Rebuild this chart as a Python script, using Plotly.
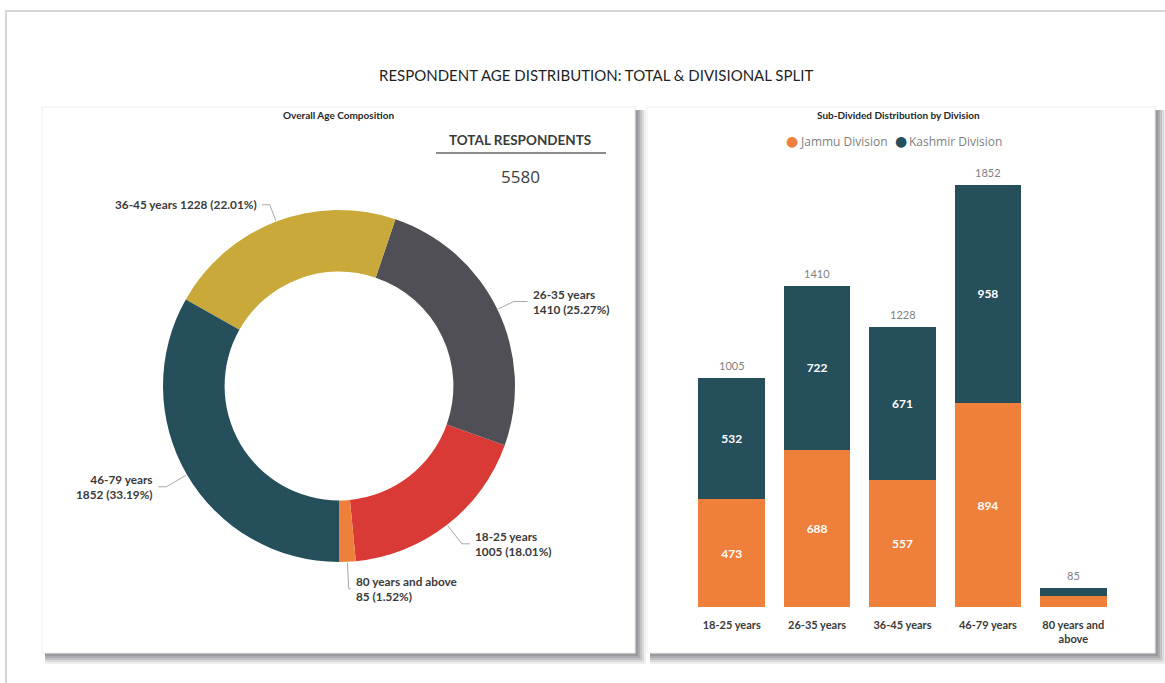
import math
import plotly.graph_objects as go

# ---- data -------------------------------------------------------------
age_groups = ["18-25 years", "26-35 years", "36-45 years", "46-79 years", "80 years and above"]
jammu = [473, 688, 557, 894, 47]
kashmir = [532, 722, 671, 958, 38]
totals = [j + k for j, k in zip(jammu, kashmir)]
grand_total = sum(totals)
divisions = ["Jammu Division", "Kashmir Division"]

# ---- style ------------------------------------------------------------
W, H = 1165, 683
pie_colors = ["#D93A35", "#4F4F55", "#C9A93A", "#264F5C", "#EE803B"]
division_colors = ["#EE803B", "#264F5C"]
font_main = "Lato, 'Open Sans', sans-serif"
label_color = "#3a3a3a"


def px(x):
    return x / W


def py(y):
    return 1 - y / H


fig = go.Figure()

# ---- donut ------------------------------------------------------------
cx, cy, R = 339, 386, 176
shares = [v / grand_total * 360 for v in totals]
# counterclockwise pies in plotly.js put the first slice on [rotation, rotation + share];
# choose it so the last slice ends exactly at 6 o'clock
rotation = 180 - shares[-1] - shares[0]

fig.add_trace(go.Pie(
    labels=age_groups,
    values=totals,
    hole=0.65,
    sort=False,
    direction="counterclockwise",
    rotation=rotation,
    marker=dict(colors=pie_colors, line=dict(width=0)),
    textinfo="none",
    hoverinfo="label+value+percent",
    showlegend=False,
    domain=dict(x=[px(cx - R), px(cx + R)], y=[py(cy + R), py(cy - R)]),
))

# outside labels with leader lines, placed from each slice's mid-angle
radial_len = [24, 18, 18, 24, 27]
horiz_len = [8, 14, 8, 8, 2]
one_line = {"36-45 years"}

shapes = []
annotations = []

angle = 180 - shares[-1]
for i, (name, val) in enumerate(zip(age_groups, totals)):
    span = shares[i]
    mid = angle - span / 2
    angle -= span
    a = math.radians(mid)
    sx, sy = math.sin(a), -math.cos(a)
    x0, y0 = cx + (R + 1) * sx, cy + (R + 1) * sy
    x1, y1 = cx + (R + radial_len[i]) * sx, cy + (R + radial_len[i]) * sy
    side = 1 if sx >= 0 else -1
    x2 = x1 + side * horiz_len[i]
    shapes.append(dict(
        type="path", xref="paper", yref="paper",
        path=f"M {px(x0)},{py(y0)} L {px(x1)},{py(y1)} L {px(x2)},{py(y1)}",
        line=dict(color="#a8a8a8", width=1), layer="above",
    ))
    pct = f"{val / grand_total * 100:.2f}%"
    sep = " " if name in one_line else "<br>"
    annotations.append(dict(
        xref="paper", yref="paper", x=px(x2 + side * 3), y=py(y1),
        text=f"<b>{name}{sep}{val} ({pct})</b>",
        showarrow=False, xanchor="left" if side > 0 else "right", yanchor="middle",
        align="left" if side > 0 else "right",
        font=dict(family=font_main, size=11.8, color=label_color),
    ))

# ---- stacked bars -----------------------------------------------------
for name, vals, color in zip(divisions, [jammu, kashmir], division_colors):
    fig.add_trace(go.Bar(
        name=name, x=age_groups, y=vals,
        marker=dict(color=color, line=dict(width=0)),
        text=vals, textposition="inside", insidetextanchor="middle", textangle=0,
        textfont=dict(family=font_main, size=12, color="white", weight="bold"),
        showlegend=False, xaxis="x", yaxis="y",
    ))

for cat, tot in zip(age_groups, totals):
    annotations.append(dict(
        xref="x", yref="y", x=cat, y=tot, text=str(tot), showarrow=False,
        xanchor="center", yanchor="bottom", yshift=4,
        font=dict(family=font_main, size=11, color="#7f7f7f"),
    ))

tick_text = [c.replace(" and above", " and<br>above") for c in age_groups]

# ---- legend row (dot + name per division) ----------------------------
legend_x = [792, 901]
for lx, name, color in zip(legend_x, divisions, division_colors):
    annotations.append(dict(
        xref="paper", yref="paper", x=px(lx), y=py(141), text="●",
        showarrow=False, xanchor="center",
        font=dict(family="DejaVu Sans", size=14, color=color),
    ))
    annotations.append(dict(
        xref="paper", yref="paper", x=px(lx + 6), y=py(141), text=name,
        showarrow=False, xanchor="left",
        font=dict(family="'Open Sans', sans-serif", size=12, color="#7f7f7f"),
    ))

# ---- panels, frame and headings --------------------------------------
panels = [(42, 107, 635, 653), (647, 107, 1155, 653)]
for (l, t, r, b) in panels:
    for k, op in zip([11, 9, 7, 5, 3], [0.12, 0.18, 0.24, 0.3, 0.35]):
        shapes.append(dict(
            type="rect", xref="paper", yref="paper",
            x0=px(l + 3), x1=px(r + k), y0=py(b + k), y1=py(t + 3),
            fillcolor=f"rgba(120,120,130,{op})", line=dict(width=0), layer="below",
        ))
    shapes.append(dict(
        type="rect", xref="paper", yref="paper",
        x0=px(l), x1=px(r), y0=py(b), y1=py(t),
        fillcolor="white", line=dict(color="#eeeeee", width=1), layer="below",
    ))

shapes.append(dict(
    type="path", xref="paper", yref="paper",
    path=f"M {px(6)},{py(H)} L {px(6)},{py(11)} L {px(W)},{py(11)}",
    line=dict(color="#d6d6d6", width=2), layer="below",
))

# divider under the headline label
shapes.append(dict(
    type="line", xref="paper", yref="paper",
    x0=px(436), x1=px(606), y0=py(153), y1=py(153),
    line=dict(color="#8c8c8c", width=2),
))

annotations += [
    dict(xref="paper", yref="paper", x=px(596), y=py(75),
         text="RESPONDENT AGE DISTRIBUTION: TOTAL &amp; DIVISIONAL SPLIT",
         showarrow=False, font=dict(family=font_main, size=15, color="#1f1f1f")),
    dict(xref="paper", yref="paper", x=px(338), y=py(115),
         text="<b>Overall Age Composition</b>", showarrow=False,
         font=dict(family=font_main, size=10, color="#262626")),
    dict(xref="paper", yref="paper", x=px(898), y=py(115),
         text="<b>Sub-Divided Distribution by Division</b>", showarrow=False,
         font=dict(family=font_main, size=10, color="#262626")),
    dict(xref="paper", yref="paper", x=px(520), y=py(140),
         text="<b>TOTAL RESPONDENTS</b>", showarrow=False,
         font=dict(family=font_main, size=13.5, color="#3a3a3a")),
    dict(xref="paper", yref="paper", x=px(520), y=py(176),
         text=str(grand_total), showarrow=False,
         font=dict(family="'Open Sans', sans-serif", size=17, color="#404040")),
]
for ann in annotations:
    ann.setdefault("yanchor", "middle")
    ann.setdefault("xanchor", "center")

fig.update_layout(
    width=W, height=H,
    margin=dict(l=0, r=0, t=0, b=0),
    paper_bgcolor="white", plot_bgcolor="rgba(0,0,0,0)",
    barmode="stack", bargap=0.22,
    uniformtext=dict(minsize=11, mode="hide"),
    xaxis=dict(
        domain=[px(689), px(1116)], anchor="y",
        tickmode="array", tickvals=age_groups, ticktext=tick_text,
        showgrid=False, zeroline=False, showline=False, ticks="",
        ticklabelstandoff=10,
        tickfont=dict(family=font_main, size=11, color=label_color, weight="bold"),
    ),
    yaxis=dict(
        domain=[py(607), py(151)], anchor="x", range=[0, 2000],
        visible=False, showgrid=False, zeroline=False,
    ),
    shapes=shapes,
    annotations=annotations,
    showlegend=False,
)

fig.write_html("out.html")
